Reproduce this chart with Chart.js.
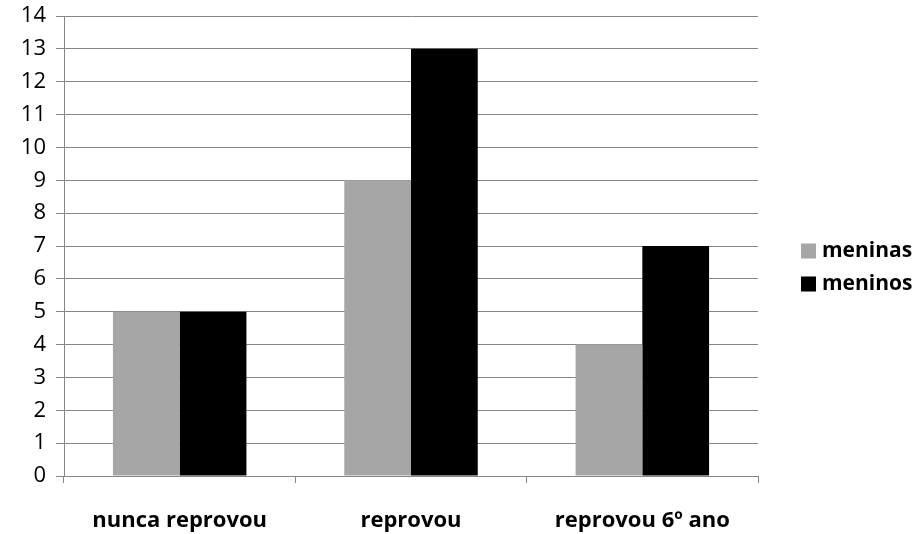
<!DOCTYPE html>
<html>
<head>
<meta charset="utf-8">
<script src="https://cdn.jsdelivr.net/npm/chart.js@4/dist/chart.umd.min.js"></script>
<style>
  html, body { margin: 0; padding: 0; background: #fff; }
  #wrap { width: 920px; height: 534px; position: relative; }
</style>
</head>
<body>
<div id="wrap"><canvas id="c" width="920" height="534"></canvas></div>
<script>
const categories = ['nunca reprovou', 'reprovou', 'reprovou 6º ano'];
const meninas = [5, 9, 4];
const meninos = [5, 13, 7];
const seriesNames = ['meninas', 'meninos'];
const seriesColors = ['#A6A6A6', '#000000'];
const yTicks = [0, 1, 2, 3, 4, 5, 6, 7, 8, 9, 10, 11, 12, 13, 14];

const FONT = "'Open Sans', 'Liberation Sans', sans-serif";
const GRID = '#868686';

// Legend drawn to the right of the plot, a little below its vertical middle
const sideLegend = {
  id: 'sideLegend',
  afterDraw(chart) {
    const ctx = chart.ctx;
    const area = chart.chartArea;
    const cy = (area.top + area.bottom) / 2 + 21.5;
    const x0 = area.right + 43;
    const gap = 33;
    const n = chart.data.datasets.length;
    ctx.save();
    ctx.font = "bold 21px " + FONT;
    ctx.textBaseline = 'middle';
    ctx.textAlign = 'left';
    chart.data.datasets.forEach((ds, i) => {
      const y = cy + (i - (n - 1) / 2) * gap;
      ctx.fillStyle = ds.backgroundColor;
      ctx.fillRect(x0, y - 7.5, 15, 15);
      ctx.fillStyle = '#000';
      ctx.fillText(ds.label, x0 + 21, y);
    });
    ctx.restore();
  }
};

new Chart(document.getElementById('c'), {
  type: 'bar',
  data: {
    labels: categories,
    datasets: [
      { label: seriesNames[0], data: meninas, backgroundColor: seriesColors[0] },
      { label: seriesNames[1], data: meninos, backgroundColor: seriesColors[1] }
    ]
  },
  options: {
    responsive: false,
    animation: false,
    devicePixelRatio: 1,
    layout: { padding: { top: 16, right: 162, left: 0, bottom: 0 } },
    datasets: { bar: { categoryPercentage: 0.577, barPercentage: 1.0 } },
    plugins: {
      legend: { display: false },
      tooltip: { enabled: false }
    },
    scales: {
      x: {
        grid: {
          offset: true,
          drawOnChartArea: false,
          drawTicks: true,
          tickLength: 7,
          color: GRID
        },
        border: { color: GRID, width: 1 },
        ticks: {
          color: '#000',
          font: { family: FONT, size: 22, weight: 'bold' },
          padding: 25,
          maxRotation: 0
        },
        afterFit(scale) {
          scale.height = 58;
          scale.paddingLeft = 0;
          scale.paddingRight = 0;
        }
      },
      y: {
        min: 0,
        max: 14,
        afterBuildTicks(scale) { scale.ticks = yTicks.map(v => ({ value: v })); },
        grid: { color: GRID, tickLength: 8, drawTicks: true },
        border: { color: GRID, width: 1 },
        ticks: {
          color: '#000',
          font: { family: FONT, size: 22 },
          padding: 10
        },
        afterFit(scale) {
          scale.width = 64;
          scale.paddingTop = 0;
          scale.paddingBottom = 0;
        }
      }
    }
  },
  plugins: [sideLegend]
});
</script>
</body>
</html>
